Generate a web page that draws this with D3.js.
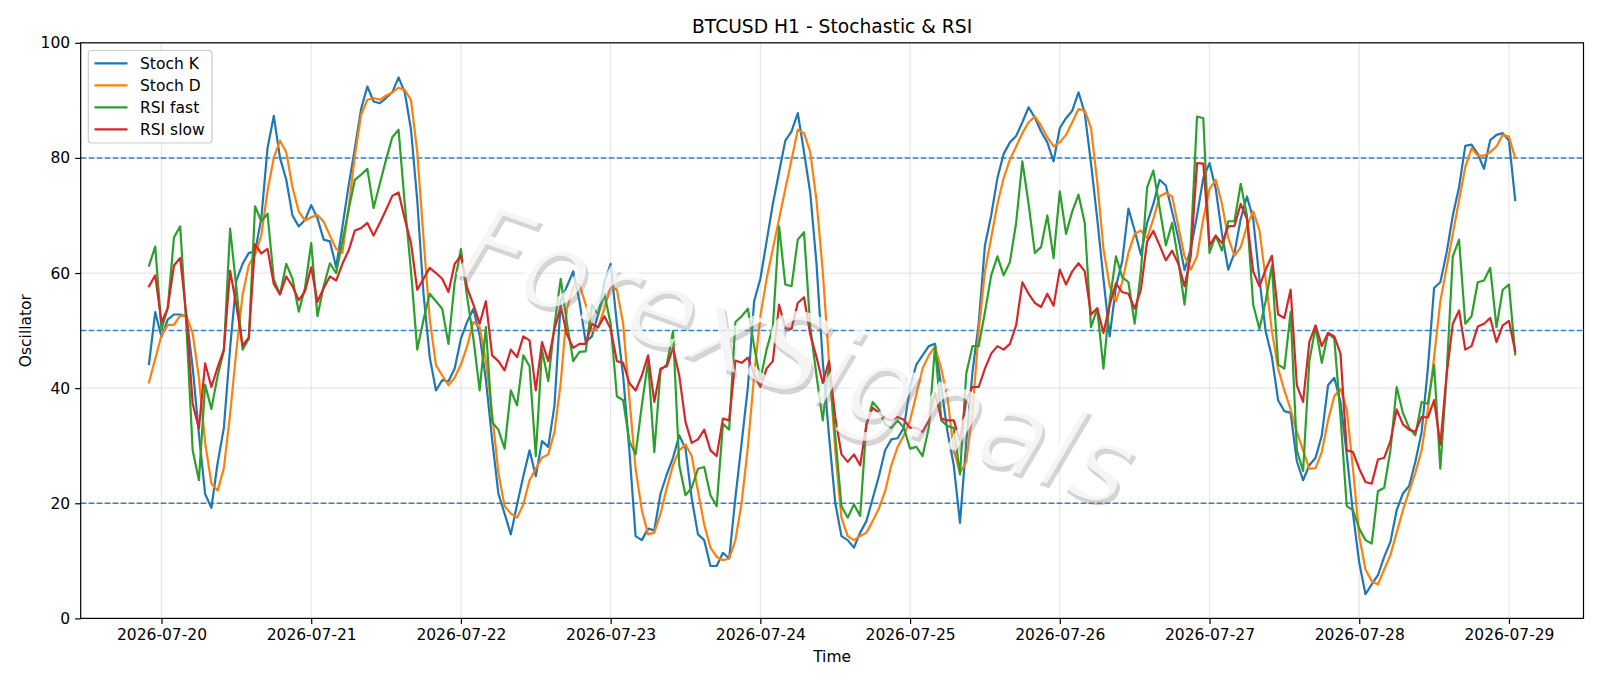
<!DOCTYPE html>
<html>
<head>
<meta charset="utf-8">
<script src="https://cdn.jsdelivr.net/npm/d3@7"></script>
<style>
  html, body { margin: 0; padding: 0; background: #ffffff; }
  svg { display: block; font-family: "DejaVu Sans", sans-serif; }
</style>
</head>
<body>
<svg id="chart" width="1600" height="686"></svg>
<script>
// ---------------- data (hourly, first bar 2026-07-19 22:00 UTC) ----------------
const startTime = "2026-07-19T22:00:00Z";
const dayTicks = ["2026-07-20","2026-07-21","2026-07-22","2026-07-23","2026-07-24",
                  "2026-07-25","2026-07-26","2026-07-27","2026-07-28","2026-07-29"];
const yTicks = [0, 20, 40, 60, 80, 100];
const levels = [20, 50, 80];
const seriesNames = ["Stoch K", "Stoch D", "RSI fast", "RSI slow"];

const stochK = [
  44.2,53.2,48.9,51.9,52.8,52.8,52.5,43.6,32.0,21.6,
  19.2,27.0,33.1,47.0,58.7,61.6,63.5,63.7,69.5,81.7,
  87.3,80.0,76.2,70.0,68.1,69.2,71.8,69.5,65.8,65.5,
  61.0,68.0,75.2,81.7,88.5,92.4,89.8,89.5,90.4,91.4,
  94.0,91.4,84.9,72.6,56.4,45.4,39.6,41.4,41.2,43.4,
  48.6,51.5,53.8,49.2,41.5,31.1,21.7,18.2,14.6,19.8,
  24.7,29.2,24.7,30.8,29.8,37.0,55.1,57.7,60.3,55.1,
  48.0,49.0,52.8,58.4,61.6,51.2,42.2,29.2,14.3,13.6,
  15.6,15.3,21.7,25.0,27.9,31.8,29.5,20.8,14.6,13.6,
  9.1,9.1,11.4,10.4,21.0,30.5,40.2,55.1,59.0,65.5,
  72.0,77.5,83.0,84.6,87.8,81.0,73.9,61.6,44.7,31.8,
  20.1,14.3,13.6,12.3,14.9,16.9,20.8,24.7,29.2,31.1,
  31.3,33.1,40.2,44.1,45.7,47.3,47.7,40.2,32.4,26.6,
  16.6,30.5,42.8,51.2,64.8,70.0,76.5,80.7,82.7,83.8,
  86.2,88.8,87.0,84.6,82.7,79.4,85.2,86.9,88.2,91.4,
  87.8,79.1,69.4,59.0,49.0,57.7,62.0,71.2,67.4,63.2,
  68.7,72.0,76.2,75.2,70.7,66.1,60.5,64.2,70.0,76.5,
  79.1,74.6,66.8,60.6,63.5,69.4,73.3,69.4,59.0,49.9,
  45.4,37.9,36.0,35.7,27.3,24.0,26.6,27.9,31.8,40.5,
  41.8,37.6,28.5,18.2,9.7,4.2,5.9,7.5,10.7,13.3,
  18.8,21.7,23.0,27.2,32.4,43.4,57.4,58.4,63.5,70.0,
  74.9,82.1,82.3,80.7,78.1,83.1,84.0,84.3,83.0,72.7
];
const stochD = [
  41.0,45.1,49.2,51.0,51.0,52.6,52.5,49.5,41.8,30.5,
  23.4,22.2,26.1,35.5,46.5,56.2,61.4,63.2,66.5,74.3,
  80.0,83.0,81.0,74.9,70.7,69.1,69.7,70.1,68.9,66.5,
  64.2,63.5,71.3,80.4,87.5,90.1,90.4,90.1,90.8,91.4,
  92.2,91.8,90.1,81.0,66.1,52.0,44.0,42.2,40.5,41.8,
  44.1,47.3,51.5,50.6,44.7,35.7,25.3,19.5,18.2,17.5,
  19.8,24.0,26.0,27.9,28.5,32.4,40.9,53.8,57.7,58.0,
  54.5,49.9,50.6,53.8,57.7,57.1,51.2,38.3,26.0,18.8,
  14.6,14.9,18.2,22.7,26.6,29.2,30.2,28.2,22.1,16.3,
  12.3,10.7,10.1,10.4,13.6,20.1,29.8,42.2,52.5,59.0,
  64.2,69.4,74.6,79.7,84.9,84.3,81.0,72.6,60.3,44.7,
  29.2,17.5,14.3,13.6,14.3,14.9,16.9,19.1,22.1,26.6,
  29.8,31.8,34.4,38.9,43.4,45.7,47.2,43.4,38.3,29.2,
  25.3,27.2,35.7,49.9,60.3,66.1,72.0,76.5,79.7,82.0,
  84.3,86.2,87.2,85.6,83.6,82.0,82.7,84.0,86.2,88.5,
  88.2,85.2,75.9,64.2,57.7,55.1,58.4,63.5,66.8,67.4,
  66.1,69.4,73.3,73.9,73.3,68.1,62.9,60.6,62.9,69.4,
  74.6,76.2,72.0,66.1,63.0,64.5,68.1,70.7,67.4,59.0,
  49.9,43.4,39.6,36.3,32.4,29.2,26.0,26.1,28.9,34.4,
  38.6,39.9,36.3,26.0,14.3,8.5,6.5,5.9,8.5,11.0,
  14.9,18.8,22.1,25.3,29.2,36.3,45.4,55.1,60.9,66.8,
  72.6,78.4,81.7,80.4,80.4,81.0,82.0,84.0,83.7,80.0
];
const rsiFast = [
  61.3,64.6,50.2,53.9,66.2,68.1,50.6,29.2,24.0,40.6,
  36.4,42.1,46.5,67.7,57.5,46.7,48.6,71.6,69.0,70.3,
  58.9,56.3,61.6,59.0,53.3,57.4,65.2,52.5,57.7,61.7,
  60.0,65.5,71.0,76.2,77.1,78.1,71.3,75.5,79.7,83.6,
  84.9,72.0,60.3,46.7,51.9,56.4,55.1,53.8,47.7,58.4,
  64.2,55.8,48.6,39.6,50.6,34.1,32.8,29.5,39.6,37.0,
  45.7,43.8,28.2,46.7,41.2,51.0,59.0,51.2,44.7,46.3,
  46.4,54.5,52.8,56.4,51.2,38.6,37.9,30.8,28.5,37.0,
  44.7,28.9,43.1,44.1,49.9,26.6,21.4,22.7,26.0,26.3,
  21.4,19.5,33.8,32.8,51.5,52.5,53.8,47.3,41.5,46.7,
  50.6,68.1,58.0,57.7,65.8,67.1,50.6,42.2,34.4,43.8,
  31.8,19.5,17.5,19.8,17.8,33.7,37.6,36.3,33.7,33.1,
  34.4,33.1,29.5,29.8,28.2,33.1,47.3,34.4,33.4,33.1,
  25.0,42.5,47.3,47.3,53.2,59.6,62.9,59.6,61.9,68.7,
  79.4,72.0,63.5,64.5,70.0,62.6,74.2,66.8,70.7,73.6,
  68.7,50.6,53.8,43.4,55.1,62.9,59.3,58.4,51.2,60.3,
  74.9,77.8,71.3,64.8,68.7,62.2,54.5,65.0,87.2,86.9,
  63.5,66.5,63.9,69.0,69.0,75.5,70.0,54.5,50.3,55.1,
  61.3,44.1,43.4,53.2,29.2,25.6,44.7,50.6,44.4,49.6,
  48.6,35.0,19.5,18.8,15.6,13.6,13.0,22.1,22.7,29.2,
  40.2,35.7,33.1,31.8,37.6,37.3,44.1,26.0,42.2,62.9,
  65.8,51.2,52.5,58.4,58.7,60.9,50.6,57.1,58.0,45.9
];
const rsiSlow = [
  57.7,59.6,51.4,53.9,61.3,62.6,52.5,37.3,33.0,44.3,
  40.2,43.6,46.7,60.4,54.4,47.4,48.8,65.0,63.4,64.2,
  58.1,56.3,59.4,57.7,55.3,56.8,61.0,55.0,57.4,59.4,
  58.7,61.6,63.9,67.4,67.8,68.7,66.5,68.7,71.0,73.4,
  74.0,69.4,65.2,57.1,59.0,60.9,60.0,59.0,56.7,61.6,
  63.0,57.4,54.5,51.2,55.1,45.7,44.7,43.1,46.7,45.4,
  49.0,48.3,39.6,48.0,44.7,50.3,54.2,49.3,47.0,47.7,
  47.7,51.2,50.6,52.5,50.3,44.7,44.4,40.9,39.6,42.2,
  45.7,37.6,43.4,43.8,47.0,42.2,34.1,30.5,31.1,32.8,
  29.2,28.2,34.7,34.4,44.8,44.4,45.3,42.5,40.2,43.4,
  44.7,54.5,50.4,50.3,54.8,55.8,49.3,45.4,40.9,44.7,
  35.0,28.5,27.2,28.5,26.6,33.7,36.6,35.7,34.7,34.4,
  35.0,34.5,33.1,33.1,32.4,34.4,39.2,34.7,34.4,34.4,
  30.8,37.9,40.2,40.2,43.4,46.0,47.3,46.7,47.7,50.9,
  58.4,56.4,54.8,54.1,56.4,54.3,60.6,58.0,60.3,61.7,
  60.3,52.8,53.9,49.6,54.5,58.2,56.7,56.4,53.8,57.1,
  65.5,67.3,64.8,62.2,63.9,61.6,57.7,63.0,79.1,79.0,
  64.8,66.5,65.2,68.1,68.2,72.0,69.4,60.3,57.7,60.6,
  63.0,52.8,52.2,57.1,40.5,37.6,48.0,50.9,47.3,49.6,
  49.0,46.0,29.2,28.9,26.0,23.7,23.4,27.6,27.9,30.8,
  36.3,33.7,32.8,32.4,35.0,34.9,37.9,30.2,42.2,51.2,
  53.5,46.7,47.3,50.7,51.2,52.2,48.0,50.9,51.7,46.4
];

// ---------------- layout ----------------
const W = 1600, H = 686;
const L = 80.7, R = 1583.5, T = 42.8, B = 618.4;
const colors = ["#1f77b4", "#ff7f0e", "#2ca02c", "#d62728"];
const tickFont = 15.5;

const svg = d3.select("#chart");
const t0 = new Date(startTime);
const allSeries = [stochK, stochD, rsiFast, rsiSlow];
const times = stochK.map((_, i) => d3.utcHour.offset(t0, i));
const tFirst = times[0], tLast = times[times.length - 1];
const pad = (tLast - tFirst) * 0.05;

const x = d3.scaleUtc()
  .domain([new Date(+tFirst - pad), new Date(+tLast + pad)])
  .range([L, R]);
const y = d3.scaleLinear().domain([0, 100]).range([B, T]);

const dayDates = dayTicks.map(s => new Date(s + "T00:00:00Z"));

// clip
svg.append("defs").append("clipPath").attr("id", "plotclip")
  .append("rect").attr("x", L).attr("y", T).attr("width", R - L).attr("height", B - T);

// grid
const grid = svg.append("g");
grid.selectAll("line.gx").data(dayDates).enter().append("line")
  .attr("x1", d => x(d)).attr("x2", d => x(d)).attr("y1", T).attr("y2", B)
  .attr("stroke", "#b0b0b0").attr("stroke-opacity", 0.3).attr("stroke-width", 1.2);
grid.selectAll("line.gy").data(yTicks).enter().append("line")
  .attr("x1", L).attr("x2", R).attr("y1", d => y(d)).attr("y2", d => y(d))
  .attr("stroke", "#b0b0b0").attr("stroke-opacity", 0.3).attr("stroke-width", 1.2);

// reference levels
svg.append("g").selectAll("line").data(levels).enter().append("line")
  .attr("x1", L).attr("x2", R).attr("y1", d => y(d)).attr("y2", d => y(d))
  .attr("stroke", "#1f77b4").attr("stroke-opacity", 0.9)
  .attr("stroke-width", 1.5).attr("stroke-dasharray", "5.6,2.4");

// series
const line = d3.line().x((d, i) => x(times[i])).y(d => y(d));
const lines = svg.append("g").attr("clip-path", "url(#plotclip)");
allSeries.forEach((s, k) => {
  lines.append("path").datum(s)
    .attr("d", line)
    .attr("fill", "none")
    .attr("stroke", colors[k])
    .attr("stroke-width", 2.2)
    .attr("stroke-linejoin", "round")
    .attr("stroke-linecap", "square");
});

// watermark
const wm = svg.append("g").attr("transform", "translate(795,362) rotate(19.5)");
wm.append("text").text("ForexSignals")
  .attr("x", 4).attr("y", 4)
  .attr("text-anchor", "middle").attr("dominant-baseline", "middle")
  .attr("font-size", 110).attr("font-style", "italic")
  .attr("fill", "#808080").attr("fill-opacity", 0.33);
wm.append("text").text("ForexSignals")
  .attr("x", 0).attr("y", 0)
  .attr("text-anchor", "middle").attr("dominant-baseline", "middle")
  .attr("font-size", 110).attr("font-style", "italic")
  .attr("fill", "#ffffff").attr("fill-opacity", 0.75);

// axes
const xAxis = d3.axisBottom(x).tickValues(dayDates)
  .tickFormat(d3.utcFormat("%Y-%m-%d")).tickSizeOuter(0).tickSize(5.5).tickPadding(5);
const gx = svg.append("g").attr("transform", `translate(0,${B})`).call(xAxis);
gx.select(".domain").remove();
gx.selectAll("text").attr("font-size", tickFont).attr("fill", "#000")
  .attr("font-family", "DejaVu Sans");
gx.selectAll("line").attr("stroke", "#000").attr("stroke-width", 1.2);

const yAxis = d3.axisLeft(y).tickValues(yTicks).tickSizeOuter(0).tickSize(5.5).tickPadding(5);
const gy = svg.append("g").attr("transform", `translate(${L},0)`).call(yAxis);
gy.select(".domain").remove();
gy.selectAll("text").attr("font-size", tickFont).attr("fill", "#000")
  .attr("font-family", "DejaVu Sans");
gy.selectAll("line").attr("stroke", "#000").attr("stroke-width", 1.2);

// frame
svg.append("rect").attr("x", L).attr("y", T).attr("width", R - L).attr("height", B - T)
  .attr("fill", "none").attr("stroke", "#000").attr("stroke-width", 1.2);

// titles
svg.append("text").attr("x", (L + R) / 2).attr("y", 33)
  .attr("text-anchor", "middle").attr("font-size", 18.7).attr("fill", "#000")
  .text("BTCUSD H1 - Stochastic & RSI");
svg.append("text").attr("x", (L + R) / 2).attr("y", 661.5)
  .attr("text-anchor", "middle").attr("font-size", tickFont).attr("fill", "#000")
  .text("Time");
svg.append("text").attr("transform", `translate(31,${(T + B) / 2}) rotate(-90)`)
  .attr("text-anchor", "middle").attr("font-size", tickFont).attr("fill", "#000")
  .text("Oscillator");

// legend
const lg = svg.append("g");
lg.append("rect").attr("x", 88.3).attr("y", 50.5).attr("width", 123.7).attr("height", 92.5)
  .attr("rx", 3).attr("fill", "#ffffff").attr("fill-opacity", 0.8)
  .attr("stroke", "#cccccc").attr("stroke-width", 1.2);
seriesNames.forEach((name, k) => {
  const cy = 63.3 + k * 22;
  lg.append("line").attr("x1", 94.5).attr("x2", 127.5).attr("y1", cy).attr("y2", cy)
    .attr("stroke", colors[k]).attr("stroke-width", 2.2);
  lg.append("text").attr("x", 140).attr("y", cy).attr("dy", "0.36em")
    .attr("font-size", tickFont).attr("fill", "#000").text(name);
});
</script>
</body>
</html>
